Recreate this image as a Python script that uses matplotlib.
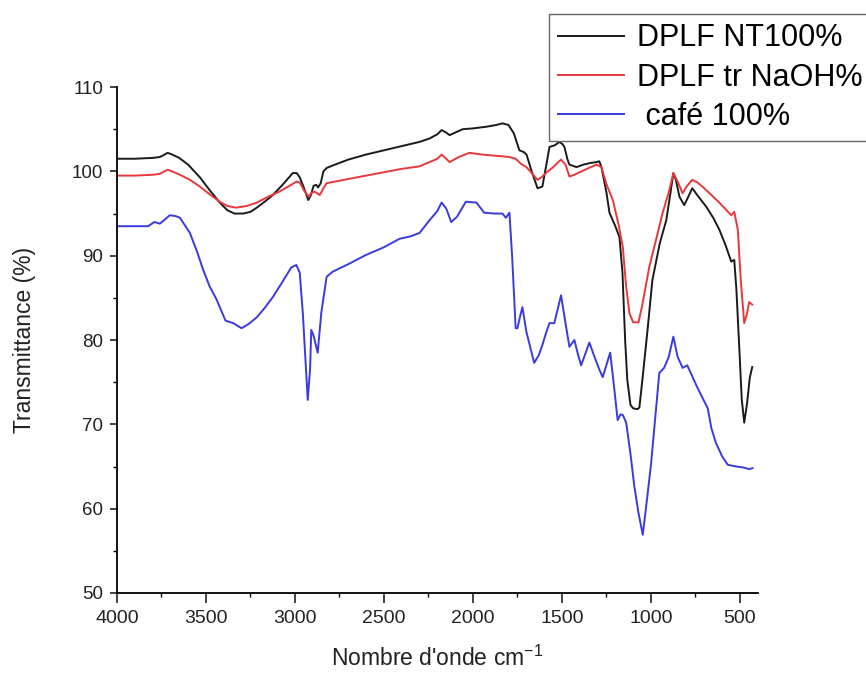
import matplotlib
matplotlib.use("Agg")
import matplotlib.pyplot as plt
from matplotlib.ticker import MultipleLocator

plt.rcParams['font.family'] = ['Liberation Sans', 'DejaVu Sans']
plt.rcParams['mathtext.fontset'] = 'custom'
plt.rcParams['mathtext.rm'] = 'Liberation Sans'
plt.rcParams['mathtext.it'] = 'Liberation Sans'

# DPLF NT100% (black)
x_nt = [4000, 3900, 3800, 3760, 3740, 3715, 3690, 3650, 3600, 3534, 3480, 3422, 3380, 3340,
        3290, 3250, 3214, 3170, 3124, 3070, 3012, 2990, 2973, 2945, 2925, 2910, 2895, 2880,
        2870, 2855, 2840, 2822, 2788, 2700, 2600, 2500, 2400, 2300, 2244, 2200, 2176, 2150,
        2131, 2100, 2058, 2000, 1924, 1870, 1834, 1800, 1770, 1739, 1715, 1699, 1670, 1637,
        1610, 1590, 1570, 1540, 1514, 1495, 1486, 1470, 1458, 1430, 1419, 1380, 1340, 1306,
        1290, 1278, 1250, 1233, 1200, 1177, 1160, 1145, 1133, 1115, 1100, 1075, 1065, 1048,
        1020, 992, 950, 914, 890, 874, 860, 840, 813, 790, 768, 740, 689, 650, 616, 580, 549,
        532, 520, 504, 490, 476, 460, 445, 431]
y_nt = [101.5, 101.5, 101.6, 101.7, 101.9, 102.2, 102.0, 101.6, 100.8, 99.3, 97.8, 96.3, 95.4, 95.0,
        95.0, 95.2, 95.7, 96.4, 97.2, 98.4, 99.8, 99.8, 99.3, 97.8, 96.6, 97.2, 98.3, 98.4,
        98.1, 98.6, 100.0, 100.4, 100.7, 101.4, 102.0, 102.5, 103.0, 103.5, 103.9, 104.4, 104.9, 104.6,
        104.3, 104.6, 105.0, 105.1, 105.3, 105.5, 105.7, 105.5, 104.5, 102.5, 102.3, 102.0, 100.0, 98.0,
        98.2, 100.5, 102.9, 103.1, 103.5, 103.2, 102.9, 101.5, 100.8, 100.6, 100.5, 100.8, 101.0, 101.1,
        101.2, 100.5, 97.5, 95.1, 93.5, 92.2, 88.0, 80.0, 75.3, 72.3, 71.9, 71.8, 72.0, 75.3,
        81.0, 87.1, 91.5, 94.2, 97.5, 99.8, 99.0, 97.0, 96.0, 97.0, 98.0, 97.2, 95.8, 94.5, 93.1, 91.2, 89.3,
        89.5, 86.0, 79.2, 73.0, 70.2, 72.5, 75.5, 76.8]

# DPLF tr NaOH% (red)
x_tr = [4000, 3900, 3800, 3760, 3715, 3690, 3646, 3590, 3534, 3480, 3422, 3380, 3331, 3270,
        3214, 3150, 3087, 3030, 2990, 2973, 2945, 2922, 2905, 2889, 2875, 2860, 2840, 2822,
        2700, 2600, 2500, 2400, 2300, 2244, 2200, 2176, 2150, 2131, 2080, 2020, 1950, 1900,
        1840, 1795, 1760, 1730, 1699, 1670, 1637, 1615, 1590, 1550, 1505, 1480, 1458, 1430,
        1400, 1350, 1306, 1278, 1250, 1214, 1180, 1158, 1140, 1121, 1100, 1070, 1050, 1009,
        970, 934, 900, 874, 850, 822, 800, 768, 740, 711, 660, 616, 580, 549, 532, 512, 495,
        476, 462, 448, 431]
y_tr = [99.5, 99.5, 99.6, 99.7, 100.2, 100.0, 99.6, 99.0, 98.2, 97.3, 96.4, 95.9, 95.7, 95.9,
        96.3, 97.0, 97.6, 98.3, 98.8, 98.7, 97.6, 97.0, 97.5, 97.6, 97.4, 97.2, 98.0, 98.6,
        99.1, 99.5, 99.9, 100.3, 100.6, 101.1, 101.5, 102.0, 101.5, 101.1, 101.7, 102.2, 102.0, 101.9,
        101.8, 101.7, 101.5, 100.9, 100.5, 99.8, 99.0, 99.3, 99.8, 100.5, 101.4, 100.8, 99.4, 99.6,
        99.9, 100.4, 100.8, 100.5, 98.5, 96.6, 93.5, 91.0, 86.5, 83.2, 82.1, 82.1, 84.0, 88.7,
        92.0, 95.1, 97.5, 99.8, 98.8, 97.4, 98.2, 99.0, 98.7, 98.2, 97.2, 96.3, 95.5, 94.8, 95.2, 93.1, 87.0,
        82.0, 83.0, 84.5, 84.2]

# café 100% (blue)
x_cafe = [4000, 3900, 3825, 3789, 3759, 3730, 3703, 3670, 3646, 3590, 3550, 3515, 3480, 3440,
          3390, 3346, 3300, 3260, 3214, 3170, 3124, 3070, 3021, 2992, 2973, 2955, 2945, 2928,
          2915, 2908, 2895, 2872, 2852, 2822, 2788, 2700, 2600, 2500, 2413, 2350, 2300, 2244,
          2200, 2176, 2150, 2122, 2090, 2040, 1980, 1937, 1880, 1834, 1815, 1795, 1780, 1760,
          1750, 1735, 1722, 1700, 1656, 1630, 1610, 1590, 1570, 1543, 1505, 1480, 1458, 1430,
          1410, 1392, 1346, 1317, 1290, 1271, 1229, 1210, 1187, 1170, 1158, 1139, 1115, 1093,
          1070, 1046, 1020, 999, 975, 953, 926, 900, 874, 850, 822, 796, 770, 740, 681, 660,
          635, 600, 568, 520, 485, 448, 429]
y_cafe = [93.5, 93.5, 93.5, 94.0, 93.8, 94.3, 94.8, 94.7, 94.5, 92.7, 90.5, 88.3, 86.4, 84.8,
          82.3, 82.0, 81.4, 81.9, 82.7, 83.8, 85.1, 86.9, 88.6, 88.9, 88.0, 83.0, 79.2, 72.9,
          76.5, 81.2, 80.5, 78.5, 83.2, 87.5, 88.1, 89.0, 90.1, 91.0, 92.0, 92.3, 92.7, 94.2,
          95.3, 96.3, 95.6, 94.0, 94.6, 96.4, 96.3, 95.1, 95.0, 95.0, 94.5, 95.1, 90.0, 81.4,
          81.4, 82.8, 83.9, 81.0, 77.3, 78.2, 79.4, 80.8, 82.0, 82.0, 85.3, 82.0, 79.2, 80.0,
          78.3, 77.0, 79.7, 78.0, 76.5, 75.6, 78.5, 75.0, 70.5, 71.2, 71.1, 70.2, 66.5, 62.6,
          59.5, 56.9, 61.5, 65.4, 71.0, 76.1, 76.7, 78.0, 80.4, 78.0, 76.7, 77.0, 75.8, 74.4, 71.9, 69.5,
          67.8, 66.2, 65.2, 65.0, 64.9, 64.7, 64.8]

labels = ['DPLF NT100%', 'DPLF tr NaOH%', ' café 100%']
colors = ['#1a1a1a', '#e8383c', '#3a3ae0']

x_ticks = [4000, 3500, 3000, 2500, 2000, 1500, 1000, 500]
y_ticks = [50, 60, 70, 80, 90, 100, 110]

fig = plt.figure(figsize=(8.66, 6.75), dpi=100)
ax = fig.add_axes([0.135, 0.1215, 0.740, 0.7495])

for xs, ys, c, lab in zip([x_nt, x_tr, x_cafe], [y_nt, y_tr, y_cafe], colors, labels):
    ax.plot(xs, ys, color=c, lw=1.4, label=lab)

ax.set_xlim(4000, 400)
ax.set_ylim(50, 110)
ax.set_xticks(x_ticks)
ax.set_yticks(y_ticks)
ax.xaxis.set_minor_locator(MultipleLocator(250))
ax.yaxis.set_minor_locator(MultipleLocator(5))
for s in ['top', 'right']:
    ax.spines[s].set_visible(False)
for s in ['left', 'bottom']:
    ax.spines[s].set_linewidth(1.3)
ax.tick_params(axis='x', which='major', direction='out', length=7, width=1.2, pad=5, labelsize=14, colors='#222222')
ax.tick_params(axis='y', which='major', direction='out', length=5, width=1.2, pad=5, labelsize=13.5, colors='#222222')
ax.tick_params(which='minor', direction='out', length=3, width=1.0)

ax.set_xlabel("Nombre d'onde cm$^{-1}$", fontsize=16.5, labelpad=14, color='#222222')
ax.set_ylabel('Transmittance (%)', fontsize=16.5, labelpad=26, color='#222222')

leg = fig.legend(loc='upper left', bbox_to_anchor=(0.634, 0.979), fontsize=22,
                 frameon=True, fancybox=False, edgecolor='#666666', framealpha=1,
                 handlelength=2.15, handletextpad=0.42, labelspacing=0.3,
                 borderpad=0.3, borderaxespad=0)
leg.get_frame().set_linewidth(1.0)

fig.savefig('out.png', dpi=100)
